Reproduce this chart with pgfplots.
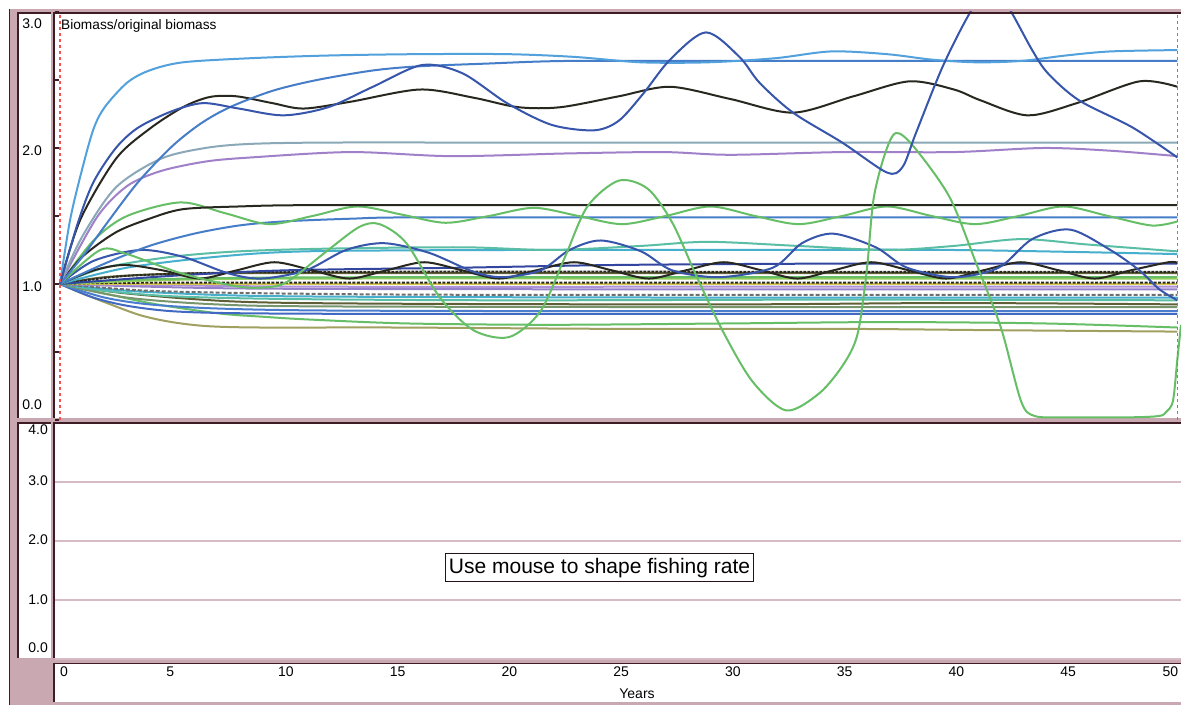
\documentclass[border=0pt]{standalone}
\usepackage{fontspec}
\setmainfont{Liberation Sans}
\usepackage{pgfplots}
\pgfplotsset{compat=1.18}
\definecolor{pinkf}{RGB}{201,168,178}
\definecolor{framedark}{RGB}{62,28,38}
\definecolor{gridpink}{RGB}{214,186,196}
\definecolor{reddash}{RGB}{250,80,80}
\definecolor{lblue}{RGB}{82,160,220}
\definecolor{mblue}{RGB}{70,125,200}
\definecolor{dblue}{RGB}{55,85,170}
\definecolor{blk}{RGB}{40,40,32}
\definecolor{greyteal}{RGB}{138,168,184}
\definecolor{purp}{RGB}{160,128,200}
\definecolor{grn}{RGB}{102,190,102}
\definecolor{teal1}{RGB}{90,190,165}
\definecolor{cyan1}{RGB}{70,175,205}
\definecolor{olive}{RGB}{160,160,96}
\definecolor{dolive}{RGB}{95,95,55}
\definecolor{yel}{RGB}{215,200,80}
\definecolor{mpurp}{RGB}{175,145,215}
\definecolor{purp2}{RGB}{150,130,200}
\definecolor{blue2}{RGB}{65,105,195}
\definecolor{blue3}{RGB}{75,125,205}
\definecolor{greygreen}{RGB}{120,150,110}
\definecolor{grey1}{RGB}{110,110,110}
\definecolor{lime}{RGB}{150,205,90}
\definecolor{navy}{RGB}{50,70,160}
\begin{document}
\begin{tikzpicture}
\useasboundingbox (0pt,0pt) rectangle (1181pt,706pt);
\fill[white] (0pt,0pt) rectangle (1181pt,706pt);
\fill[pinkf] (10pt,0.5pt) rectangle (1181pt,696.5pt);
\fill[white] (17pt,288pt) rectangle (50.5pt,694pt);
\fill[white] (53.3pt,288pt) rectangle (1181pt,694pt);
\fill[white] (17pt,48pt) rectangle (50.5pt,283.7pt);
\fill[white] (53.3pt,48pt) rectangle (1181pt,283.7pt);
\fill[white] (53.3pt,4pt) rectangle (1181pt,43.3pt);

% ---------------- top panel ----------------
\begin{axis}[
  at={(55pt,286pt)}, anchor=south west, scale only axis,
  width=1126pt, height=408pt,
  xmin=-0.224, xmax=50.16, ymin=0, ymax=3,
  axis line style={draw=none},
  xtick=\empty,
  ytick={0,1,2,3}, minor ytick={0.5,1.5,2.5},
  yticklabels={\raisebox{10pt}{0.0},\raisebox{-7.5pt}{1.0},\raisebox{-7.5pt}{2.0},\raisebox{-16.5pt}{3.0}},
  yticklabel style={anchor=base east, inner sep=0pt, xshift=-13pt, font=\fontsize{14}{16}\selectfont},
  ytick pos=left, tick align=inside,
  major tick length=4pt, minor tick length=4pt,
  tick style={draw=framedark, line width=1.3pt},
  every axis plot/.append style={line width=2pt, smooth, tension=0.5, mark=none},
]
% crowd of near-flat lines
\addplot[olive] coordinates {(0,1)(1,0.93)(2.1,0.86)(3.6,0.77)(5,0.72)(6.6,0.69)(9,0.68)(15,0.68)(25,0.67)(35,0.67)(42,0.66)(50,0.65)};
\addplot[grn] coordinates {(0,1)(2,0.93)(4,0.86)(5.5,0.82)(7.3,0.78)(9,0.76)(11,0.74)(15.5,0.71)(22,0.70)(30,0.71)(37,0.72)(44,0.71)(50,0.68)};
\addplot[blue2] coordinates {(0,1)(1.5,0.9)(3,0.84)(5,0.80)(8,0.785)(15,0.78)(30,0.78)(50,0.78)};
\addplot[blue3] coordinates {(0,1)(2,0.9)(4,0.85)(7,0.82)(12,0.805)(25,0.80)(40,0.80)(50,0.80)};
\addplot[greygreen] coordinates {(0,1)(3,0.9)(7,0.85)(12,0.835)(30,0.83)(50,0.83)};
\addplot[dolive] coordinates {(0,1)(3,0.93)(8,0.87)(15,0.855)(30,0.85)(40,0.86)(50,0.85)};
\addplot[teal1] coordinates {(0,1)(2,0.95)(5,0.91)(10,0.89)(20,0.88)(35,0.885)(50,0.88)};
\addplot[cyan1] coordinates {(0,1)(3,0.95)(8,0.915)(15,0.905)(30,0.90)(50,0.90)};
\addplot[grey1, dash pattern=on 4pt off 2pt] coordinates {(0,1)(4,0.95)(10,0.93)(20,0.92)(50,0.92)};
\addplot[purp2] coordinates {(0,1)(4,0.98)(10,0.965)(30,0.96)(50,0.96)};
\addplot[mpurp] coordinates {(0,1)(5,0.99)(12,0.98)(30,0.98)(50,0.98)};
\addplot[yel] coordinates {(0,1)(10,1.0)(30,1.0)(50,1.0)};
\addplot[blk, dash pattern=on 3pt off 1.5pt] coordinates {(0,1)(5,1.01)(30,1.01)(50,1.01)};
\addplot[lime] coordinates {(0,1)(5,1.03)(12,1.04)(30,1.04)(50,1.04)};
\addplot[grn] coordinates {(0,1)(3,1.03)(8,1.045)(15,1.05)(30,1.05)(50,1.05)};
\addplot[dolive] coordinates {(0,1)(2,1.05)(5,1.075)(10,1.08)(30,1.08)(50,1.08)};
\addplot[blk, dash pattern=on 3pt off 1pt] coordinates {(0,1)(3,1.06)(8,1.085)(15,1.09)(30,1.09)(50,1.09)};
\addplot[navy] coordinates {(0,1)(5,1.06)(10,1.10)(18,1.12)(25,1.14)(35,1.15)(50,1.15)};
% mid-level lines
\addplot[cyan1] coordinates {(0,1)(3,1.12)(7,1.20)(11,1.24)(20,1.25)(30,1.25)(40,1.25)(50,1.22)};
\addplot[teal1] coordinates {(0,1)(2,1.12)(5,1.20)(8,1.24)(12,1.26)(18,1.27)(22,1.25)(26,1.28)(29,1.31)(33,1.28)(37,1.25)(40,1.28)(43,1.33)(46,1.29)(50,1.24)};
% small black oscillation
\addplot[blk] coordinates {(0,1)(1.5,1.1)(2.9,1.14)(4.6,1.1)(6.25,1.04)(7.9,1.1)(9.6,1.16)(11.3,1.1)(12.95,1.04)(14.6,1.1)(16.3,1.16)(18,1.1)(19.65,1.04)(21.3,1.1)(23,1.16)(24.7,1.1)(26.35,1.04)(28,1.1)(29.7,1.16)(31.4,1.1)(33,1.04)(34.6,1.1)(36.3,1.16)(38,1.1)(39.65,1.04)(41.3,1.1)(43,1.16)(44.7,1.1)(46.3,1.04)(47.9,1.1)(49.6,1.16)(50,1.155)};
% dark blue medium oscillation
\addplot[dblue] coordinates {(0,1)(1.5,1.17)(3.6,1.25)(5.5,1.2)(7.5,1.08)(9,1.04)(11,1.1)(12.8,1.25)(14.5,1.30)(16.5,1.23)(18.5,1.09)(19.8,1.05)(21.5,1.1)(22.8,1.25)(24.2,1.32)(26,1.24)(27.4,1.1)(29.5,1.05)(31.9,1.12)(33.2,1.3)(34.6,1.37)(36.5,1.27)(37.9,1.12)(40,1.05)(42,1.12)(43.5,1.33)(45.2,1.40)(47,1.25)(48.3,1.10)(49.2,0.96)(50,0.88)};
% blue flat 1.49
\addplot[mblue] coordinates {(0,1)(2,1.15)(4,1.28)(6,1.37)(8,1.43)(10,1.46)(13,1.48)(16,1.49)(30,1.49)(50,1.49)};
% green wave ~1.5
\addplot[grn] coordinates {(0,1)(1.5,1.32)(3,1.5)(5.4,1.60)(7.4,1.52)(9.35,1.44)(11.3,1.5)(13.3,1.57)(15.3,1.51)(17.25,1.45)(19.2,1.5)(21.2,1.56)(23.2,1.5)(25.15,1.44)(27.1,1.5)(29.1,1.57)(31.1,1.5)(33.05,1.44)(35,1.5)(37,1.57)(39,1.5)(40.95,1.44)(42.9,1.5)(44.9,1.57)(46.9,1.5)(48.85,1.43)(50,1.46)};
% black flat 1.58
\addplot[blk] coordinates {(0,1)(1,1.2)(2.5,1.38)(4,1.48)(5.5,1.55)(8,1.57)(11.5,1.58)(25,1.58)(40,1.58)(50,1.58)};
% purple ~1.96
\addplot[purp] coordinates {(0,1)(1.65,1.49)(3,1.72)(4.5,1.83)(6.5,1.9)(8.5,1.93)(13,1.97)(17.5,1.94)(22.7,1.96)(27,1.97)(30,1.95)(35,1.97)(40,1.97)(44,2.00)(47,1.98)(50,1.94)};
% grey-teal ~2.04
\addplot[greyteal] coordinates {(0,1)(1,1.35)(2.5,1.71)(4.5,1.92)(6.5,2.0)(8.5,2.03)(12,2.04)(20,2.04)(35,2.04)(50,2.04)};
% big green oscillation
\addplot[grn] coordinates {(0,1)(1.8,1.25)(3,1.22)(5.4,1.08)(8,0.98)(9.5,0.98)(10.3,1.03)(12,1.25)(13.4,1.42)(14.3,1.44)(15.5,1.3)(17,0.9)(18.5,0.66)(20.1,0.61)(21.5,0.8)(22.6,1.2)(23.6,1.57)(25,1.76)(26.3,1.7)(27.4,1.45)(28.5,1.05)(29.7,0.64)(31,0.28)(32.5,0.07)(34,0.2)(35.1,0.42)(35.7,0.64)(36.1,1.1)(36.4,1.62)(36.9,1.95)(37.4,2.11)(38.2,2.01)(39.8,1.64)(41,1.15)(42.1,0.68)(43,0.14)(43.6,0.03)(45,0.02)(48,0.02)(49.2,0.03)(49.5,0.06)(49.8,0.14)(50,0.45)(50.16,0.7)};
% black oscillation ~2.4
\addplot[blk] coordinates {(0,1)(0.9,1.47)(2.5,1.92)(4,2.14)(5.5,2.3)(6.7,2.375)(7.9,2.38)(9.5,2.33)(10.9,2.29)(13,2.34)(16.1,2.43)(18.5,2.37)(20.5,2.30)(22.4,2.30)(25,2.38)(27.3,2.45)(30,2.36)(32.8,2.26)(35.5,2.38)(38,2.49)(40,2.43)(41.2,2.35)(43.3,2.24)(45.5,2.33)(48.3,2.49)(50,2.45)};
% medium blue rising to 2.64
\addplot[mblue] coordinates {(0,1)(1,1.2)(2.2,1.47)(3.5,1.75)(5,2.01)(6.3,2.18)(7.6,2.3)(9.5,2.42)(11.5,2.5)(14,2.57)(16,2.6)(19,2.62)(22.7,2.64)(30,2.64)(40,2.64)(50,2.64)};
% light blue top
\addplot[lblue] coordinates {(0,1)(0.45,1.47)(1,1.85)(1.5,2.14)(2,2.3)(3,2.48)(4,2.57)(5.5,2.63)(8.5,2.66)(12,2.68)(16,2.69)(20,2.69)(23,2.67)(26,2.63)(29,2.63)(32,2.66)(34.5,2.71)(37,2.69)(39,2.65)(41,2.63)(43,2.64)(45,2.68)(47,2.71)(50,2.72)};
% dark blue big oscillation
\addplot[dblue] coordinates {(0,1)(0.8,1.45)(1.5,1.75)(2.5,2.0)(3.5,2.15)(5,2.27)(6.4,2.33)(8,2.29)(10,2.24)(12,2.3)(14,2.45)(16.2,2.61)(18,2.55)(20,2.33)(22,2.17)(23.9,2.13)(25,2.2)(26.1,2.4)(27.3,2.65)(28.9,2.85)(30.4,2.67)(31.3,2.48)(32.8,2.26)(35,2.04)(37,1.82)(37.7,1.86)(38.3,2.11)(39.5,2.6)(40.7,2.99)(41.7,3.22)(42.6,2.99)(43.5,2.72)(44.2,2.55)(45.6,2.35)(48,2.15)(50,1.93)};
\draw[reddash, line width=1.5pt, dash pattern=on 3pt off 3pt] (axis cs:0,0) -- (axis cs:0,3);
\draw[reddash, line width=1.5pt, dash pattern=on 3pt off 3pt] (axis cs:50,0) -- (axis cs:50,3);
\end{axis}

% ---------------- bottom panel ----------------
\begin{axis}[
  at={(55pt,47pt)}, anchor=south west, scale only axis,
  width=1126pt, height=236pt,
  xmin=-0.224, xmax=50.16, ymin=0, ymax=4,
  axis line style={draw=none},
  ytick={0,1,2,3,4},
  yticklabels={\raisebox{6.5pt}{0.0},\raisebox{-5pt}{1.0},\raisebox{-4pt}{2.0},\raisebox{-4pt}{3.0},\raisebox{-12pt}{4.0}},
  yticklabel style={anchor=base east, inner sep=0pt, xshift=-7pt, font=\fontsize{14}{16}\selectfont},
  xtick={0,5,10,15,20,25,30,35,40,45,50},
  xticklabels={\hspace*{5.5pt}0,5,10,15,20,25,30,35,40,45,\hspace*{-9.5pt}50},
  xticklabel style={anchor=north west, inner sep=0pt, yshift=-7.5pt, xshift=-5.5pt, font=\fontsize{14}{16}\selectfont},
  major tick length=0pt, tick style={draw=none},
  ymajorgrids, grid style={draw=gridpink, line width=1.3pt},
  xlabel={Years},
  xlabel style={at={(axis description cs:0.5169,0)}, anchor=north, inner sep=0pt, yshift=-30pt, font=\fontsize{14}{16}\selectfont},
]
\addplot[draw=none, forget plot] coordinates {(0,0)(50,0)};
\node[draw=framedark!60!black, line width=1pt, inner xsep=3.5pt, inner ysep=4pt, font=\fontsize{21}{24}\selectfont, text height=15.5pt, text depth=4.5pt, fill=white] at (rel axis cs:0.4836,0.3856) {Use mouse to shape fishing rate};
\end{axis}

% frame lines
\draw[framedark, line width=1.6pt] (9.5pt,0.5pt) -- (9.5pt,696.5pt);
\draw[framedark, line width=1.6pt] (17.8pt,288pt) -- (17.8pt,693.2pt) -- (50.5pt,693.2pt);
\draw[framedark, line width=1.6pt] (54.1pt,288pt) -- (54.1pt,693.2pt) -- (1181pt,693.2pt);
\draw[framedark, line width=1.6pt] (17.8pt,48pt) -- (17.8pt,282.9pt) -- (50.5pt,282.9pt);
\draw[framedark, line width=1.6pt] (54.1pt,48pt) -- (54.1pt,282.9pt) -- (1181pt,282.9pt);
\draw[framedark, line width=1.6pt] (54.1pt,4pt) -- (54.1pt,42.5pt) -- (1181pt,42.5pt);

\node[anchor=base west, inner sep=0pt, font=\fontsize{13.7}{16}\selectfont] at (61pt,676.5pt) {Biomass/original biomass};
\end{tikzpicture}
\end{document}
